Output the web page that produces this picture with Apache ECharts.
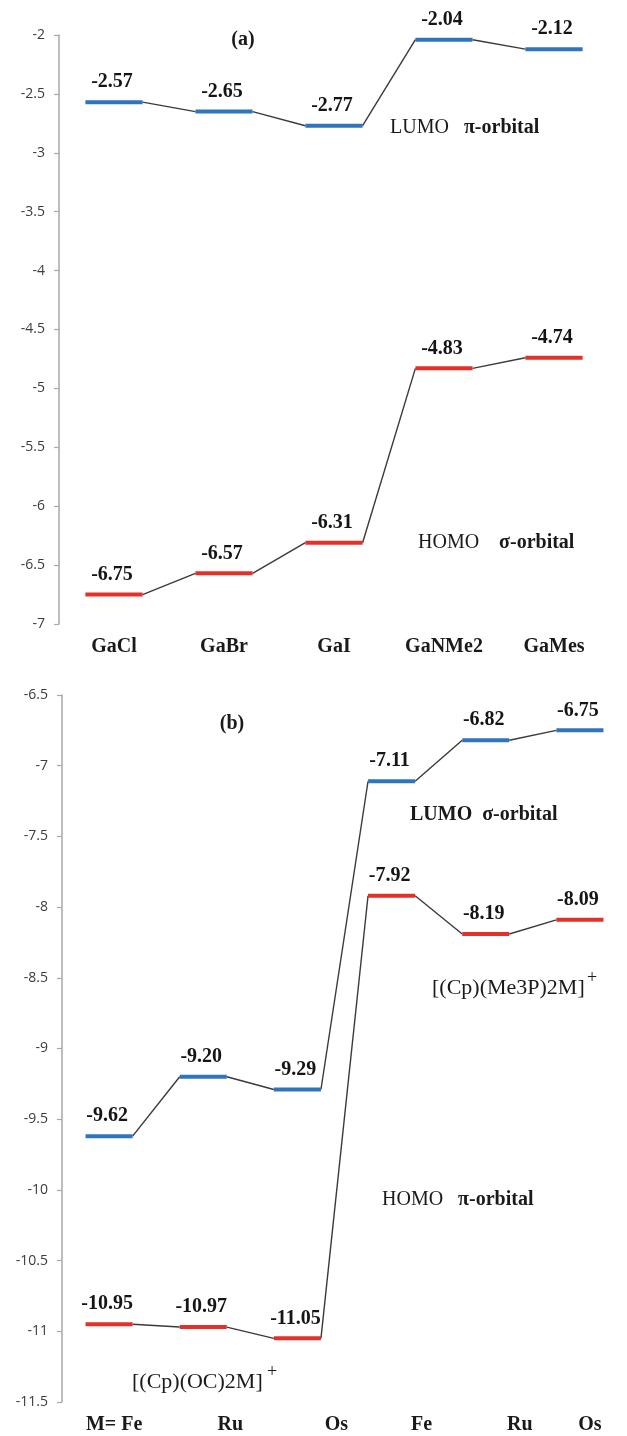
<!DOCTYPE html>
<html><head><meta charset="utf-8">
<script src="https://cdn.jsdelivr.net/npm/echarts@6/dist/echarts.min.js"></script>
<style>html,body{margin:0;padding:0;background:#fff}#c{width:627px;height:1436px}</style>
</head><body><div id="c"></div>
<script>
// ---- data: panel (a) ----
const catsA = ['GaCl', 'GaBr', 'GaI', 'GaNMe2', 'GaMes'];
const lumoA = [-2.57, -2.65, -2.77, -2.04, -2.12];
const homoA = [-6.75, -6.57, -6.31, -4.83, -4.74];
const yMinA = -7, yMaxA = -2, yStepA = 0.5;
// ---- data: panel (b) ----
const catsB = ['M= Fe', 'Ru', 'Os', 'Fe', 'Ru', 'Os'];
const lumoB = [-9.62, -9.20, -9.29, -7.11, -6.82, -6.75];
const homoB = [-10.95, -10.97, -11.05, -7.92, -8.19, -8.09];
const yMinB = -11.5, yMaxB = -6.5, yStepB = 0.5;

const BLUE = '#2f75bd', RED = '#e5302a', LINK = '#3a3a3a';
const SERIF = '"Liberation Serif", "Times New Roman", serif';
const labelShiftB = [5, 27, 39, 30, 34, 10];

function levelSeries(axisIdx, values, color, hwFrac) {
  return {
    type: 'custom', xAxisIndex: axisIdx, yAxisIndex: axisIdx,
    data: values.map((v, i) => [i, v]),
    clip: false,
    renderItem(params, api) {
      const i = api.value(0), v = api.value(1);
      const p = api.coord([i, v]);
      const band = api.size([1, 0])[0];
      const hw = band * hwFrac;
      const children = [];
      if (i < values.length - 1) {
        const q = api.coord([i + 1, values[i + 1]]);
        children.push({ type: 'line', shape: { x1: p[0] + hw, y1: p[1], x2: q[0] - hw, y2: q[1] },
          style: { stroke: LINK, lineWidth: 1.4 } });
      }
      children.push({ type: 'line', shape: { x1: p[0] - hw, y1: p[1], x2: p[0] + hw, y2: p[1] },
        style: { stroke: color, lineWidth: 4 } });
      children.push({ type: 'text', x: p[0] - 2, y: p[1] - 20,
        style: { text: v.toFixed(2), fill: '#151515', font: 'bold 20px ' + SERIF, align: 'center', verticalAlign: 'middle' } });
      return { type: 'group', children };
    }
  };
}

function yAxisCfg(gi, min, max, step) {
  return {
    gridIndex: gi, type: 'value', min, max, interval: step,
    splitLine: { show: false },
    axisLine: { show: true, onZero: false, lineStyle: { color: '#a8a8a8', width: 1.5 } },
    axisTick: { show: true, length: 5, lineStyle: { color: '#a8a8a8', width: 1.2 } },
    axisLabel: { margin: 14, fontSize: 14, fontFamily: '"Open Sans", sans-serif', color: '#3c3c3c' }
  };
}

const richB = {};
labelShiftB.forEach((d, i) => {
  richB['s' + i] = { padding: [0, 0, 0, 2 * d], fontSize: 20, fontWeight: 'bold', fontFamily: SERIF, color: '#1a1a1a' };
});

function t(x, y, text, rich, align) {
  return { type: 'text', x, y, style: { text, rich, align: align || 'left', verticalAlign: 'middle',
    font: '20px ' + SERIF, fill: '#1a1a1a' } };
}
const R = {
  n: { fontSize: 20, fontFamily: SERIF, color: '#1a1a1a' },
  b: { fontSize: 20, fontWeight: 'bold', fontFamily: SERIF, color: '#1a1a1a' },
  c: { fontSize: 22, fontFamily: SERIF, color: '#1a1a1a' }
};

const option = {
  backgroundColor: '#fff',
  animation: false,
  grid: [
    { left: 59, top: 35, width: 550, height: 589 },
    { left: 62, top: 695, width: 591, height: 707 }
  ],
  xAxis: [
    { gridIndex: 0, type: 'category', data: catsA, boundaryGap: true,
      axisLine: { show: false, onZero: false }, axisTick: { show: false },
      axisLabel: { margin: 13, fontSize: 20, fontWeight: 'bold', fontFamily: SERIF, color: '#1a1a1a' } },
    { gridIndex: 1, type: 'category', data: catsB, boundaryGap: true,
      axisLine: { show: false, onZero: false }, axisTick: { show: false },
      axisLabel: { margin: 13, interval: 0, formatter: (v, i) => '{s' + i + '|' + v + '}', rich: richB,
        fontSize: 20, fontWeight: 'bold', fontFamily: SERIF, color: '#1a1a1a' } }
  ],
  yAxis: [yAxisCfg(0, yMinA, yMaxA, yStepA), yAxisCfg(1, yMinB, yMaxB, yStepB)],
  series: [
    levelSeries(0, lumoA, BLUE, 0.26),
    levelSeries(0, homoA, RED, 0.26),
    levelSeries(1, lumoB, BLUE, 0.25),
    levelSeries(1, homoB, RED, 0.25)
  ],
  graphic: [
    t(243, 40, '{b|(a)}', R, 'center'),
    t(390, 128, '{n|LUMO}   {b|π-orbital}', R),
    t(418, 543, '{n|HOMO}    {b|σ-orbital}', R),
    t(232, 724, '{b|(b)}', R, 'center'),
    t(410, 815, '{b|LUMO}  {b|σ-orbital}', R),
    t(432, 988, '{c|[(Cp)(Me3P)2M]}', R),
    { type: 'text', x: 587, y: 978, style: { text: '+', font: '18px ' + SERIF, fill: '#1a1a1a', verticalAlign: 'middle' } },
    t(382, 1200, '{n|HOMO}   {b|π-orbital}', R),
    t(132, 1382, '{c|[(Cp)(OC)2M]}', R),
    { type: 'text', x: 267, y: 1372, style: { text: '+', font: '18px ' + SERIF, fill: '#1a1a1a', verticalAlign: 'middle' } }
  ]
};

const chart = echarts.init(document.getElementById('c'), null, { renderer: 'canvas' });
chart.setOption(option);
</script>
</body></html>
